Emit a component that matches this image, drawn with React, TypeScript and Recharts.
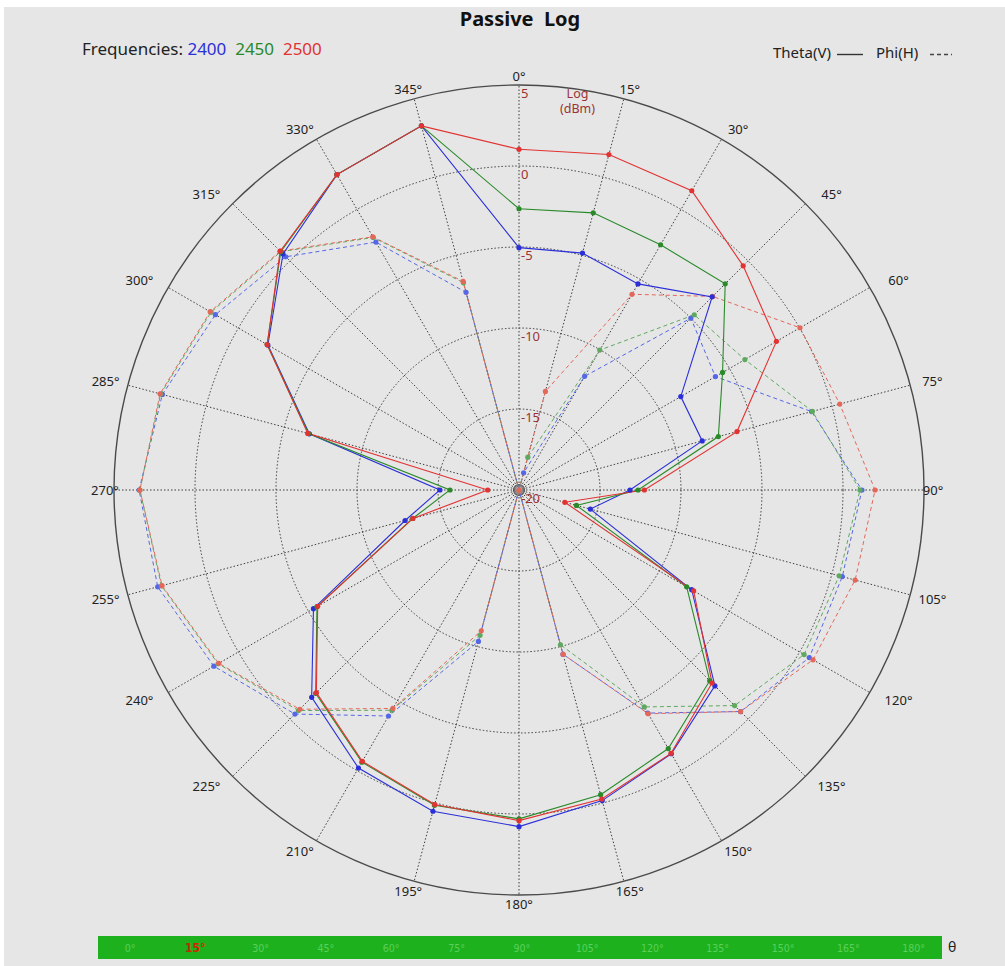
import React from 'react';
import { RadarChart, Radar, PolarGrid, PolarAngleAxis, PolarRadiusAxis } from 'recharts';

// ---- data ----
const angleLabels = [
  '0°', '15°', '30°', '45°', '60°', '75°', '90°', '105°', '120°', '135°', '150°', '165°',
  '180°', '195°', '210°', '225°', '240°', '255°', '270°', '285°', '300°', '315°', '330°', '345°',
];

// Theta(V) – solid
const theta2400 = [-5.04, -4.86, -5.31, -3.14, -8.47, -8.29, -13.15, -15.44, -7.69, -2.9, -1.2, -0.15,
  0.78, 0.53, -0.18, -1.9, -5.35, -12.72, -15.12, -6.6, -2.1, 0.6, 2.48, 3.27];
const theta2450 = [-2.64, -2.29, -2.52, -2.0, -5.49, -7.26, -12.65, -16.33, -8.05, -3.35, -1.57, -0.53,
  0.3, 0.15, -0.6, -2.25, -5.6, -13.2, -15.74, -6.55, -2.05, 0.8, 2.48, 3.27];
const theta2500 = [1.03, 1.44, 1.33, -0.43, -1.65, -6.07, -12.26, -17.07, -7.55, -3.15, -1.23, -0.25,
  0.41, 0.1, -0.66, -2.31, -5.65, -13.22, -18.07, -6.5, -2.05, 0.85, 2.48, 3.27];

// Phi(H) – dashed
const phi2400 = [-20, -18.9, -11.9, -5.0, -6.0, -1.3, 1.17, 0.66, 0.69, -0.66, -4.1, -9.5,
  -20, -10.32, -3.89, -0.44, 1.75, 3.09, 3.45, 2.79, 1.64, 0.36, -2.33, -7.37];
const phi2450 = [-20, -17.9, -10.03, -4.7, -3.9, -1.25, 1.05, 0.46, 0.32, -1.18, -4.54, -10.11,
  -20, -10.71, -4.3, -0.75, 1.45, 2.85, 3.4, 2.9, 1.95, 0.8, -2.0, -6.75];
const phi2500 = [-20, -13.7, -6.05, -3.1, 0.03, 0.5, 1.98, 1.48, 0.96, -0.66, -4.05, -9.51,
  -20, -11.0, -4.43, -0.86, 1.4, 2.81, 3.4, 2.94, 2.01, 0.85, -1.95, -6.67];

const radiusTicks = [-20, -15, -10, -5, 0, 5];
const ringValues = [-15, -10, -5, 0];
const frequencies = ['2400', '2450', '2500'];
const thetaSlider = ['0°', '15°', '30°', '45°', '60°', '75°', '90°', '105°', '120°', '135°', '150°', '165°', '180°'];
const selectedTheta = '15°';

// ---- layout / style ----
const CX = 519;
const CY = 490;
const R = 405;
const RMIN = -20;
const RMAX = 5;
const FONT = "'Noto Sans', 'Open Sans', sans-serif";

const BLUE = '#2b2fd8';
const GREEN = '#2a8a2a';
const RED = '#e23232';
const BLUE_D = '#5566e6';
const GREEN_D = '#5fa85f';
const RED_D = '#e4685a';
const FREQ_COLORS = [BLUE, GREEN, RED];
const AXIS_RED = '#9a3434';

const rOf = (v: number) => ((v - RMIN) / (RMAX - RMIN)) * R;

const data = angleLabels.map((a, i) => ({
  angle: a,
  t2400: theta2400[i],
  t2450: theta2450[i],
  t2500: theta2500[i],
  p2400: phi2400[i],
  p2450: phi2450[i],
  p2500: phi2500[i],
}));

function AngleTick(props: any) {
  const { payload } = props;
  const idx = angleLabels.indexOf(payload.value);
  const th = (idx * 15 * Math.PI) / 180;
  const s = Math.sin(th);
  const c = Math.cos(th);
  const a2 = Math.abs(Math.sin(2 * th));
  const x = CX + 414 * s + 28 * s * a2;
  const y = CY - 414 * c - 3 * Math.sign(Math.round(c * 1000)) * a2;
  return (
    <text x={x} y={y} textAnchor="middle" dominantBaseline="central" fontSize={13} fill="#222" fontFamily={FONT}>
      {payload.value}
    </text>
  );
}

function RadiusTick(props: any) {
  const { x, y, payload } = props;
  return (
    <text x={x + 2} y={y + 13} fontSize={13} fill={AXIS_RED} fontFamily={FONT}>
      {payload.value}
    </text>
  );
}

const makeDot = (c: string) => (p: any) => (
  <circle key={`d-${p.dataKey}-${p.index}`} cx={p.cx} cy={p.cy} r={2.6} fill={c} stroke="none" />
);

export default function App() {
  return (
    <div style={{ position: 'relative', width: 1005, height: 966, background: '#fff', overflow: 'hidden', fontFamily: FONT }}>
      <style>{'body{margin:0}'}</style>
      <div style={{ position: 'absolute', left: 4, top: 7, right: 0, bottom: 0, background: '#e6e6e6' }} />
      <div style={{ position: 'absolute', left: 0, top: 0 }}>
        <RadarChart
          width={1005}
          height={966}
          data={data}
          cx={CX}
          cy={CY}
          outerRadius={R}
          startAngle={90}
          endAngle={-270}
          margin={{ top: 0, right: 0, bottom: 0, left: 0 }}
        >
          <PolarGrid
            gridType="circle"
            polarRadius={ringValues.map(rOf)}
            stroke="#2a2a2a"
            strokeWidth={0.9}
            strokeDasharray="1.5 2"
          />
          <PolarGrid gridType="circle" polarRadius={[5.5]} radialLines={false} stroke="#555" strokeWidth={1.2} />
          <PolarAngleAxis
            dataKey="angle"
            axisLineType="circle"
            axisLine={{ stroke: '#4a4a4a', strokeWidth: 1.4 }}
            tickLine={false}
            tick={<AngleTick />}
          />
          <PolarRadiusAxis
            angle={90}
            type="number"
            domain={[RMIN, RMAX]}
            ticks={radiusTicks}
            axisLine={false}
            tickLine={false}
            tick={<RadiusTick />}
            allowDataOverflow
          />
          <Radar dataKey="p2400" stroke={BLUE_D} strokeWidth={1} strokeDasharray="4 3" fill="none" fillOpacity={0} dot={makeDot(BLUE_D)} isAnimationActive={false} />
          <Radar dataKey="p2450" stroke={GREEN_D} strokeWidth={1} strokeDasharray="4 3" fill="none" fillOpacity={0} dot={makeDot(GREEN_D)} isAnimationActive={false} />
          <Radar dataKey="p2500" stroke={RED_D} strokeWidth={1} strokeDasharray="4 3" fill="none" fillOpacity={0} dot={makeDot(RED_D)} isAnimationActive={false} />
          <Radar dataKey="t2400" stroke={BLUE} strokeWidth={1.1} fill="none" fillOpacity={0} dot={makeDot(BLUE)} isAnimationActive={false} />
          <Radar dataKey="t2450" stroke={GREEN} strokeWidth={1.1} fill="none" fillOpacity={0} dot={makeDot(GREEN)} isAnimationActive={false} />
          <Radar dataKey="t2500" stroke={RED} strokeWidth={1.1} fill="none" fillOpacity={0} dot={makeDot(RED)} isAnimationActive={false} />
        </RadarChart>
      </div>

      {/* Title */}
      <div style={{ position: 'absolute', left: 370, width: 300, top: 5, textAlign: 'center', fontSize: 20, fontWeight: 700, color: '#111', whiteSpace: 'pre' }}>
        {'Passive  Log'}
      </div>

      {/* Frequencies */}
      <div style={{ position: 'absolute', left: 82, top: 37, fontSize: 17, color: '#222', whiteSpace: 'pre', lineHeight: '24px' }}>
        {'Frequencies: '}
        {frequencies.map((f, i) => (
          <span key={f} style={{ color: FREQ_COLORS[i] }}>{f + (i < frequencies.length - 1 ? '  ' : '')}</span>
        ))}
      </div>

      {/* Polarisation legend */}
      <div style={{ position: 'absolute', left: 773, top: 41, fontSize: 15, color: '#222', lineHeight: '22px', whiteSpace: 'pre' }}>Theta(V)</div>
      <div style={{ position: 'absolute', left: 876, top: 41, fontSize: 15, color: '#222', lineHeight: '22px', whiteSpace: 'pre' }}>Phi(H)</div>
      <svg style={{ position: 'absolute', left: 830, top: 46 }} width={130} height={16}>
        <line x1={7} y1={8.5} x2={33} y2={8.5} stroke="#333" strokeWidth={1.4} />
        <line x1={100} y1={8.5} x2={122} y2={8.5} stroke="#444" strokeWidth={1.3} strokeDasharray="4 3" />
      </svg>

      {/* Log (dBm) label */}
      <div style={{ position: 'absolute', left: 560, top: 86, fontSize: 12.5, color: AXIS_RED, lineHeight: '15px', textAlign: 'center' }}>
        Log<br />(dBm)
      </div>

      {/* theta slider */}
      <div style={{ position: 'absolute', left: 98, top: 936, width: 844, height: 23, background: '#1db21d' }} />
      {thetaSlider.map((t, i) => (
        <div
          key={t}
          style={{
            position: 'absolute',
            left: 130 + 65.3 * i - 20,
            width: 40,
            top: 939,
            textAlign: 'center',
            fontSize: t === selectedTheta ? 12 : 10.5,
            fontWeight: t === selectedTheta ? 700 : 400,
            color: t === selectedTheta ? '#c82a00' : '#5ccf5c',
            lineHeight: '18px',
            fontFamily: "'DejaVu Sans Condensed', 'DejaVu Sans', sans-serif",
            fontStretch: 'condensed',
          }}
        >
          {t}
        </div>
      ))}
      <div style={{ position: 'absolute', left: 948, top: 937, fontSize: 14, color: '#222', lineHeight: '20px' }}>θ</div>
    </div>
  );
}
